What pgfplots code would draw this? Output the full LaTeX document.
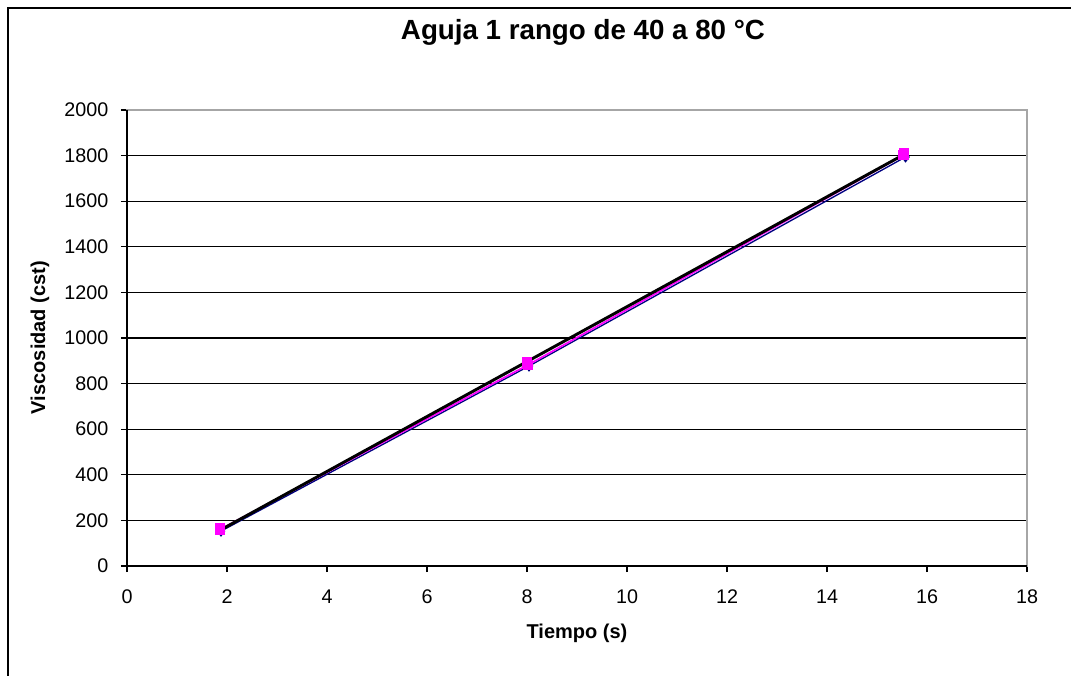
\documentclass[border=0pt]{standalone}
\usepackage{pgfplots}
\pgfplotsset{compat=1.18}
\usepackage{fontspec}
\setmainfont{Liberation Sans}
\definecolor{excelmag}{RGB}{255,0,255}
\definecolor{excelnavy}{RGB}{0,0,128}
\begin{document}
\begin{tikzpicture}[x=1pt,y=1pt]
\path[use as bounding box] (0,0) rectangle (803.25,506.25);
\draw[line width=1.2pt,black] (6,-2) -- (6,500.25) -- (810,500.25);
\begin{axis}[
  at={(95.25pt,81.75pt)}, anchor=south west,
  width=675pt, height=342pt, scale only axis,
  xmin=0, xmax=18, ymin=0, ymax=2000,
  xtick={0,2,...,18}, ytick={0,200,...,2000},
  axis line style={gray!70, line width=0.8pt},
  tick align=outside, tick pos=left,
  major tick length=4.5pt,
  tick style={black, line width=0.8pt},
  ymajorgrids, grid style={black, line width=0.9pt},
  ticklabel style={font=\fontsize{14.8}{16}\selectfont},
  yticklabel style={xshift=-6pt},
  xticklabel style={yshift=-10pt},
  /pgf/number format/assume math mode=true,
  /pgf/number format/1000 sep={},
  clip=false,
]
\draw[black, line width=1pt] (rel axis cs:0,1) -- (rel axis cs:0,0) -- (rel axis cs:1,0);
\addplot[excelnavy, line width=1pt, mark=diamond*, mark size=3.5pt, mark options={fill=excelnavy}] coordinates {(1.88,153) (8.04,877) (15.57,1794)};
\addplot[excelmag, line width=1.3pt, mark=square*, mark size=3.3pt, mark options={fill=excelmag}] coordinates {(1.86,160) (8.02,882) (15.53,1802)};
\addplot[only marks, excelmag, mark=square*, mark size=3.3pt, mark options={fill=excelmag}] coordinates {(1.86,167) (8.0,895) (15.53,1811)};
\addplot[black, line width=2.2pt] coordinates {(1.87,158) (15.55,1806)};
\end{axis}
\node[font=\bfseries\fontsize{20.8}{23}\selectfont] at (437.25,482.25) {Aguja 1 rango de 40 a 80 °C};
\node[font=\bfseries\fontsize{15}{17}\selectfont] at (432.75,31.5) {Tiempo (s)};
\node[font=\bfseries\fontsize{15}{17}\selectfont, rotate=90] at (30,253.1) {Viscosidad (cst)};
\end{tikzpicture}
\end{document}
